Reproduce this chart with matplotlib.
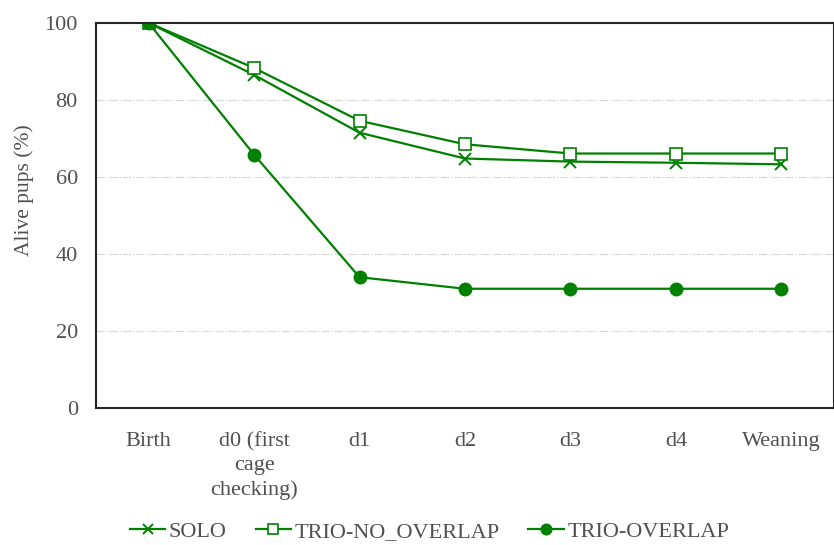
import matplotlib
matplotlib.use('Agg')
import matplotlib.pyplot as plt
import numpy as np

# datos -------
etapas = ['Birth', 'd0 (first\ncage\nchecking)', 'd1', 'd2', 'd3', 'd4', 'Weaning']
solo = [100, 86.5, 71.5, 64.8, 64.0, 63.7, 63.3]
trio_no_overlap = [100, 88.3, 74.6, 68.5, 66.1, 66.1, 66.1]
trio_overlap = [100, 65.8, 34.0, 31.0, 31.0, 31.0, 31.0]

verde = '#008000'
gris = '#505050'
plt.rcParams['font.family'] = ['Liberation Serif', 'DejaVu Serif']

fig = plt.figure(figsize=(8.34, 5.45), dpi=100)
ax = fig.add_axes([0.115, 0.251, 0.885, 0.707])

x = np.arange(len(etapas))
ax.plot(x, solo, color=verde, lw=1.6, marker='x', ms=9, mew=1.4, label='SOLO')
ax.plot(x, trio_no_overlap, color=verde, lw=1.6, marker='s', ms=9, mfc='white',
        mew=1.2, label='TRIO-NO_OVERLAP')
ax.plot(x, trio_overlap, color=verde, lw=1.6, marker='o', ms=9, label='TRIO-OVERLAP')

ax.set_xlim(-0.5, len(etapas) - 0.5)
ax.set_ylim(0, 100)
ax.set_yticks([0, 20, 40, 60, 80, 100])
ax.set_xticks(x)
ax.set_xticklabels(etapas, fontsize=16, color=gris, va='top', linespacing=1.35)
ax.tick_params(axis='y', labelsize=16, labelcolor=gris, length=0, pad=13)
ax.tick_params(axis='x', length=0, pad=17)
ax.set_ylabel('Alive pups (%)', fontsize=15.5, color=gris)
ax.yaxis.set_label_coords(-0.084, 0.565)

for y in [20, 40, 60, 80]:
    ax.axhline(y, color='#d9d9d9', lw=0.9, ls='-.', zorder=0)
for s in ax.spines.values():
    s.set_color('#262626')
    s.set_linewidth(1.5)

handles, labels = ax.get_legend_handles_labels()
fig.legend(handles, labels, loc='center', bbox_to_anchor=(0.515, 0.024), ncol=3,
           frameon=False, fontsize=16, handlelength=1.6, handletextpad=0.15,
           columnspacing=1.3, labelcolor=gris, markerscale=0.85)

fig.savefig('out.png', dpi=100)
